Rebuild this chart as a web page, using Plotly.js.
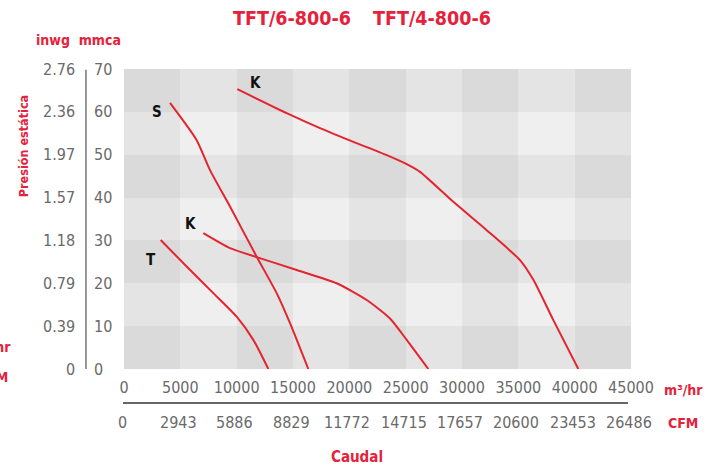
<!DOCTYPE html>
<html>
<head>
<meta charset="utf-8">
<script src="https://cdn.plot.ly/plotly-3.0.1.min.js"></script>
<style>html,body{margin:0;padding:0;background:#fff;}#chart{width:723px;height:469px;}</style>
</head>
<body>
<div id="chart"></div>
<script>
// ---- data ----
const flowTicks = [0, 5000, 10000, 15000, 20000, 25000, 30000, 35000, 40000, 45000];
const flowTickText = ["0","5000","10000","15000","20000","25000","30000","35000","40000","45000"];
const cfmTickText = ["0","2943","5886","8829","11772","14715","17657","20600","23453","26486"];
const mmcaTicks = [0, 10, 20, 30, 40, 50, 60, 70];
const mmcaTickText = ["0","10","20","30","40","50","60","70"];
const inwgTickText = ["0","0.39","0.79","1.18","1.57","1.97","2.36","2.76"];

const kTopX = [10058, 14440, 17396, 20355, 23314, 25090, 26272, 29231, 32190, 35149, 36332, 38107, 40326];
const kTopY = [65.3, 59.7, 56.2, 53.0, 49.9, 47.8, 46.0, 39.0, 32.4, 25.4, 20.8, 11.4, 0];
const sX = [4083, 6450, 7633, 9408, 11775, 13550, 14734, 16360];
const sY = [62.1, 53.4, 46.4, 37.9, 26.2, 17.7, 10.7, 0];
const kLowX = [7041, 9408, 11775, 15326, 18876, 21539, 23610, 25090, 27011];
const kLowY = [31.7, 28.2, 26.1, 23.1, 20.0, 16.1, 11.8, 6.8, 0];
const tX = [3254, 5562, 7929, 10000, 11479, 12810];
const tY = [30.1, 23.9, 17.7, 12.2, 6.8, 0];

const curveLabels = ["K", "S", "K", "T"];
const curveLabelX = [11690, 2900, 5858, 2368];
const curveLabelY = [66.8, 60.0, 33.8, 25.4];

// ---- styles ----
const RED = "#e5213b";
const LINE = "#e3252f";
const NARROW = "DejaVu Sans Condensed, DejaVu Sans, sans-serif";
const GRAY = "#6a6a6a";

// checkerboard background (heatmap from tick arrays)
const cellX = [], cellY = [], z = [];
for (let j = 0; j < flowTicks.length - 1; j++) cellX.push((flowTicks[j] + flowTicks[j+1]) / 2);
for (let i = 0; i < mmcaTicks.length - 1; i++) cellY.push((mmcaTicks[i] + mmcaTicks[i+1]) / 2);
for (let i = 0; i < cellY.length; i++) {
  const row = [];
  for (let j = 0; j < cellX.length; j++) row.push((i % 2 === 0 ? 1 : 0) + (j % 2 === 0 ? 1 : 0));
  z.push(row);
}

const curve = (x, y) => ({
  x: x, y: y, type: "scatter", mode: "lines",
  line: {color: LINE, width: 2, shape: "spline", smoothing: 0.6},
  hoverinfo: "skip", showlegend: false
});

const traces = [
  {type: "heatmap", x: cellX, y: cellY, z: z, zmin: 0, zmax: 2, showscale: false, hoverinfo: "skip",
   colorscale: [[0, "#efefef"], [0.5, "#e4e4e4"], [1, "#dadada"]], xgap: 0, ygap: 0},
  curve(kTopX, kTopY), curve(sX, sY), curve(kLowX, kLowY), curve(tX, tY)
];

const ann = [];
// curve labels
for (let i = 0; i < curveLabels.length; i++) {
  ann.push({x: curveLabelX[i], y: curveLabelY[i], xref: "x", yref: "y", text: curveLabels[i], showarrow: false,
    xanchor: "center", yanchor: "middle",
    font: {family: NARROW, size: 15, color: "#111", weight: "bold"}});
}
// inwg and mmca tick labels
for (let i = 0; i < mmcaTicks.length; i++) {
  ann.push({x: -0.0927, y: mmcaTicks[i], xref: "paper", yref: "y", text: inwgTickText[i], showarrow: false,
    xanchor: "right", yanchor: "middle", font: {family: NARROW, size: 16, color: GRAY}});
  ann.push({x: -0.063, y: mmcaTicks[i], xref: "paper", yref: "y", text: mmcaTickText[i], showarrow: false,
    xanchor: "left", yanchor: "middle", font: {family: NARROW, size: 16, color: GRAY}});
}
// CFM tick labels
for (let i = 0; i < flowTicks.length; i++) {
  ann.push({x: flowTicks[i], y: -0.177, xref: "x", yref: "paper", text: cfmTickText[i], showarrow: false,
    xanchor: "center", yanchor: "middle", xshift: -2, font: {family: NARROW, size: 16, color: GRAY}});
}
const redText = (text, x, y, size, extra) => Object.assign({x: x, y: y, xref: "paper", yref: "paper", text: text,
  showarrow: false, xanchor: "center", yanchor: "middle",
  font: {family: NARROW, size: size, color: RED, weight: "bold"}}, extra || {});
ann.push(redText("TFT/6-800-6", 0.3314, 1.17, 19.5));
ann.push(redText("TFT/4-800-6", 0.6075, 1.17, 19.5));
ann.push(redText("inwg  mmca", -0.0888, 1.097, 14));
ann.push(redText("Presión estática", -0.199, 0.743, 12.5, {textangle: -90}));
ann.push(redText("m³/hr", 1.1045, -0.07, 14));
ann.push(redText("CFM", 1.102, -0.18, 14));
ann.push(redText("m³/hr", -0.219, 0.073, 14, {xanchor: "right"}));
ann.push(redText("CFM", -0.225, -0.027, 14, {xanchor: "right"}));
ann.push(redText("Caudal", 0.4596, -0.293, 15));

const layout = {
  width: 723, height: 469,
  margin: {l: 124, r: 92, t: 69, b: 100},
  paper_bgcolor: "#fff", plot_bgcolor: "#fff",
  showlegend: false,
  xaxis: {range: [0, 45000], tickvals: flowTicks, ticktext: flowTickText, showgrid: false, zeroline: false,
    showline: false, ticks: "", ticklabelstandoff: 7, tickfont: {family: NARROW, size: 16, color: GRAY}, fixedrange: true},
  yaxis: {range: [0, 70], tickvals: mmcaTicks, showticklabels: false, showgrid: false, zeroline: false,
    showline: false, ticks: "", fixedrange: true},
  shapes: [
    {type: "line", xref: "paper", yref: "y", x0: -0.075, x1: -0.075, y0: -0.7, y1: 69.8, line: {color: "#777", width: 1.5}},
    {type: "line", xref: "paper", yref: "paper", x0: -0.002, x1: 0.994, y0: -0.113, y1: -0.113, line: {color: "#666", width: 2}}
  ],
  annotations: ann
};

Plotly.newPlot("chart", traces, layout, {displayModeBar: false, staticPlot: true});
</script>
</body>
</html>
